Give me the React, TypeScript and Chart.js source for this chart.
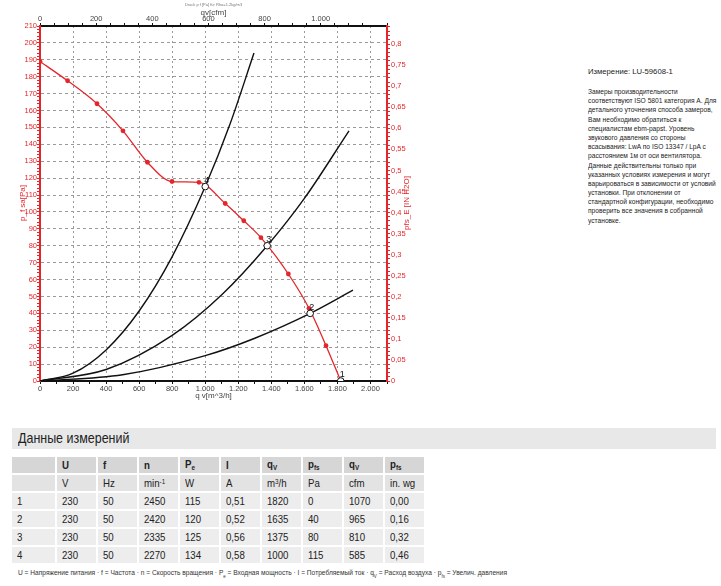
import React, { useEffect, useRef } from 'react';
import { Chart, registerables } from 'chart.js';

Chart.register(...registerables);

// Fan curve: static pressure [Pa] over volume flow [m³/h]
const fanFlow = [0, 167, 345, 502, 650, 799, 962, 1121, 1233, 1337, 1503, 1628, 1731, 1820];
const fanPressure = [189, 177.6, 164, 148, 129.4, 118, 117.5, 105, 94.8, 84.8, 63.3, 43, 20.9, 0];

// System resistance curves through the operating points 4, 3 and 2
const sysFlowA = [0, 200, 400, 600, 800, 1000, 1150, 1295];
const sysPressA = [0, 4.6, 18.4, 41.4, 73.6, 115, 152, 194];
const sysFlowB = [0, 400, 800, 1100, 1375, 1600, 1870];
const sysPressB = [0, 6.8, 27, 51, 80, 108, 148];
const sysFlowC = [0, 500, 1000, 1300, 1635, 1894];
const sysPressC = [0, 3.7, 15, 25.3, 40, 53.7];

// Measurement table
const rowIds = ['1', '2', '3', '4'];
const voltage = [230, 230, 230, 230];
const frequency = [50, 50, 50, 50];
const speed = [2450, 2420, 2335, 2270];
const inputPower = [115, 120, 125, 134];
const current = ['0,51', '0,52', '0,56', '0,58'];
const flowM3h = [1820, 1635, 1375, 1000];
const pressurePa = [0, 40, 80, 115];
const flowCfm = [1070, 965, 810, 585];
const pressureInWg = ['0,00', '0,16', '0,32', '0,46'];

// Axis ranges
const flowMax = 2100; // m³/h
const pressureMax = 210; // Pa
const M3H_PER_CFM = 1.699011;
const PA_PER_INH2O = 249.089;

const RED = '#e3262b';
const GRID = '#9a9a9a';
const AXIS_TEXT = '#444';
const FONT = '"Liberation Sans", Arial, sans-serif';

const CANVAS_W = 430;
const CANVAS_H = 405;

const thousands = (v: number) => {
  const r = Math.round(v);
  if (r >= 1000) return `${Math.floor(r / 1000)}.${String(r % 1000).padStart(3, '0')}`;
  return String(r);
};

const pts = (xs: number[], ys: number[]) => xs.map((x, i) => ({ x, y: ys[i] }));

const chartText = {
  id: 'chartText',
  afterDatasetsDraw(chart: any) {
    const { ctx } = chart;
    const xs = chart.scales.x;
    const ys = chart.scales.y;
    ctx.save();
    // operating point numbers
    ctx.font = `9px ${FONT}`;
    ctx.fillStyle = '#111';
    ctx.textAlign = 'left';
    ctx.textBaseline = 'middle';
    flowM3h.forEach((q, i) => {
      const px = xs.getPixelForValue(q);
      const py = ys.getPixelForValue(pressurePa[i]);
      ctx.fillText(rowIds[i], px - 1, py - 6);
    });
    ctx.restore();
  },
  afterDraw(chart: any) {
    const { ctx, chartArea } = chart;
    const cx = (chartArea.left + chartArea.right) / 2;
    ctx.save();
    ctx.textAlign = 'center';
    ctx.textBaseline = 'middle';
    ctx.fillStyle = '#777';
    ctx.font = `4px ${FONT}`;
    ctx.fillText('Druck p f [Pa] für Rho=1.2kg/m3', cx, 5);
    ctx.fillStyle = AXIS_TEXT;
    ctx.font = `8px ${FONT}`;
    ctx.fillText('qv[cfm]', cx, 13);
    ctx.fillText('q v[m^3/h]', cx, chartArea.bottom + 15);
    ctx.fillStyle = RED;
    ctx.translate(chartArea.left - 17, 203);
    ctx.rotate(-Math.PI / 2);
    ctx.fillText('p_f sa[Pa]', 0, 0);
    ctx.restore();
    ctx.save();
    ctx.textAlign = 'center';
    ctx.textBaseline = 'middle';
    ctx.fillStyle = RED;
    ctx.font = `8px ${FONT}`;
    ctx.translate(chartArea.right + 20, 203);
    ctx.rotate(-Math.PI / 2);
    ctx.fillText('pfs_E [IN H2O]', 0, 0);
    ctx.restore();
  },
};

function FanChart() {
  const ref = useRef<HTMLCanvasElement | null>(null);
  useEffect(() => {
    if (!ref.current) return;
    const black = { borderColor: '#111', borderWidth: 1.4, pointRadius: 0, showLine: true, cubicInterpolationMode: 'monotone' as const, fill: false };
    const chart = new Chart(ref.current, {
      type: 'scatter',
      data: {
        datasets: [
          { ...black, data: pts(sysFlowA, sysPressA), order: 3 },
          { ...black, data: pts(sysFlowB, sysPressB), order: 3 },
          { ...black, data: pts(sysFlowC, sysPressC), order: 3 },
          {
            data: pts(fanFlow, fanPressure),
            showLine: true,
            borderColor: RED,
            borderWidth: 1.3,
            cubicInterpolationMode: 'monotone',
            pointRadius: 2.4,
            pointBackgroundColor: RED,
            pointBorderWidth: 0,
            order: 2,
          },
          {
            data: pts(flowM3h, pressurePa),
            showLine: false,
            pointRadius: 3.3,
            pointBackgroundColor: '#fff',
            pointBorderColor: '#111',
            pointBorderWidth: 1,
            order: 1,
          },
        ],
      },
      options: {
        responsive: false,
        animation: false,
        devicePixelRatio: 1,
        layout: { padding: 0 },
        plugins: { legend: { display: false }, tooltip: { enabled: false } },
        scales: {
          x: {
            type: 'linear',
            position: 'bottom',
            min: 0,
            max: flowMax,
            afterFit: (s: any) => { s.height = CANVAS_H - 381; },
            ticks: {
              stepSize: 100,
              autoSkip: false,
              maxRotation: 0,
              padding: 0,
              color: AXIS_TEXT,
              font: { size: 7.5, family: FONT },
              callback: (v: any) => (v % 200 === 0 ? thousands(v) : ''),
            },
            grid: {
              color: (c: any) => (c.tick && c.tick.value % 200 === 0 && c.tick.value > 0 && c.tick.value < flowMax ? GRID : 'rgba(0,0,0,0)'),
              tickColor: '#111',
              tickLength: 3,
              tickBorderDash: [],
              lineWidth: 1,
            },
            border: { color: '#111', width: 2, dash: [2, 3] },
          },
          x2: {
            type: 'linear',
            position: 'top',
            min: 0,
            max: flowMax / M3H_PER_CFM,
            afterFit: (s: any) => { s.height = 26; },
            ticks: {
              stepSize: 50,
              autoSkip: false,
              maxRotation: 0,
              padding: 0,
              color: AXIS_TEXT,
              font: { size: 7.5, family: FONT },
              callback: (v: any) => (Math.abs(v % 200) < 1e-6 ? thousands(v) : ''),
            },
            grid: { drawOnChartArea: false, tickColor: '#111', tickLength: 3, color: '#111' },
            border: { color: '#111', width: 2 },
          },
          y: {
            type: 'linear',
            position: 'left',
            min: 0,
            max: pressureMax,
            afterFit: (s: any) => { s.width = 40; },
            ticks: {
              stepSize: 2,
              autoSkip: false,
              padding: 0,
              color: RED,
              font: { size: 7.5, family: FONT },
              callback: (v: any) => (v % 10 === 0 ? String(v) : ''),
            },
            grid: {
              color: (c: any) => (c.tick && c.tick.value % 10 === 0 && c.tick.value > 0 && c.tick.value < pressureMax ? GRID : 'rgba(0,0,0,0)'),
              tickColor: RED,
              tickLength: 3,
              tickBorderDash: [],
              lineWidth: 1,
            },
            border: { color: RED, width: 2, dash: [3, 3] },
          },
          y2: {
            type: 'linear',
            position: 'right',
            min: 0,
            max: pressureMax / PA_PER_INH2O,
            afterFit: (s: any) => { s.width = CANVAS_W - 387; },
            ticks: {
              stepSize: 0.01,
              autoSkip: false,
              padding: 1,
              color: RED,
              font: { size: 7.5, family: FONT },
              callback: (v: any) => {
                const k = v * 20;
                return Math.abs(k - Math.round(k)) < 1e-6 ? String(+v.toFixed(2)).replace('.', ',') : '';
              },
            },
            grid: { drawOnChartArea: false, tickColor: RED, tickLength: 3, color: RED },
            border: { color: RED, width: 2 },
          },
        },
      },
      plugins: [chartText],
    } as any);
    return () => chart.destroy();
  }, []);
  return (
    <canvas
      ref={ref}
      width={CANVAS_W}
      height={CANVAS_H}
      style={{ position: 'absolute', left: 0, top: 0, width: CANVAS_W, height: CANVAS_H }}
    />
  );
}

const noteLines = [
  'Замеры производительности',
  'соответствуют ISO 5801 категория A. Для',
  'детального уточнения способа замеров,',
  'Вам необходимо обратиться к',
  'специалистам ebm-papst. Уровень',
  'звукового давления со стороны',
  'всасывания: LwA по ISO 13347 / LpA с',
  'расстоянием 1м от оси вентилятора.',
  'Данные действительны только при',
  'указанных условиях измерения и могут',
  'варьироваться в зависимости от условий',
  'установки. При отклонении от',
  'стандартной конфигурации, необходимо',
  'проверить все значения в собранной',
  'установке.',
];

// condensed look for the table and notes
const squeeze = (k: number): React.CSSProperties => ({
  display: 'inline-block',
  transform: `scaleX(${k})`,
  transformOrigin: 'left center',
  whiteSpace: 'nowrap',
});

const cellBase: React.CSSProperties = {
  height: 16,
  padding: '0 0 0 5px',
  boxSizing: 'border-box',
  textAlign: 'left',
  verticalAlign: 'middle',
  whiteSpace: 'nowrap',
  overflow: 'hidden',
};

const sub = (t: string) => <sub style={{ fontSize: 7.5, verticalAlign: -2 }}>{t}</sub>;
const sup = (t: string) => <sup style={{ fontSize: 7.5, verticalAlign: 3 }}>{t}</sup>;

function DataTable() {
  const headBg = '#d6d6d6';
  const unitBg = '#e3e3e3';
  const rowBg = '#ededed';
  const head: React.ReactNode[] = [
    '', 'U', 'f', 'n', <>P{sub('e')}</>, 'I', <>q{sub('V')}</>, <>p{sub('fs')}</>, <>q{sub('V')}</>, <>p{sub('fs')}</>,
  ];
  const units: React.ReactNode[] = [
    '', 'V', 'Hz', <>min{sup('-1')}</>, 'W', 'A', <>m{sup('3')}/h</>, 'Pa', 'cfm', 'in. wg',
  ];
  const rows = rowIds.map((id, i) => [
    id, voltage[i], frequency[i], speed[i], inputPower[i], current[i], flowM3h[i], pressurePa[i], flowCfm[i], pressureInWg[i],
  ]);
  const widths = [43, 39, 39, 39, 39, 39, 39, 39, 39, 39];
  const colGroup = (
    <colgroup>
      {widths.map((w, j) => <col key={j} style={{ width: w }} />)}
    </colgroup>
  );
  const K = 0.84;
  return (
    <table
      style={{
        position: 'absolute',
        left: 10,
        top: 455,
        width: 416,
        borderCollapse: 'separate',
        borderSpacing: 2,
        fontFamily: FONT,
        fontSize: 11.5,
        color: '#222',
        tableLayout: 'fixed',
      }}
    >
      {colGroup}
      <tbody>
        <tr>
          {head.map((h, j) => (
            <td key={j} style={{ ...cellBase, background: headBg, fontWeight: 'bold' }}><span style={squeeze(K)}>{h}</span></td>
          ))}
        </tr>
        <tr>
          {units.map((u, j) => (
            <td key={j} style={{ ...cellBase, background: unitBg }}><span style={squeeze(K)}>{u}</span></td>
          ))}
        </tr>
        {rows.map((r, i) => (
          <tr key={i}>
            {r.map((v, j) => (
              <td key={j} style={{ ...cellBase, background: rowBg }}><span style={squeeze(K)}>{v}</span></td>
            ))}
          </tr>
        ))}
      </tbody>
    </table>
  );
}

export default function App() {
  return (
    <div style={{ position: 'absolute', left: 0, top: 0, width: 721, height: 586, background: '#fff', overflow: 'hidden' }}>
      <FanChart />
      <div style={{ position: 'absolute', left: 588, top: 67, fontFamily: FONT, fontSize: 8, color: '#222', lineHeight: '9.2px' }}>
        <span style={squeeze(0.96)}>Измерение: LU-59608-1</span>
      </div>
      <div style={{ position: 'absolute', left: 588, top: 87, fontFamily: FONT, fontSize: 8, color: '#222', lineHeight: '9.2px' }}>
        {noteLines.map((l, i) => (
          <div key={i} style={{ height: 9.2 }}><span style={squeeze(0.83)}>{l}</span></div>
        ))}
      </div>
      <div
        style={{
          position: 'absolute',
          left: 12,
          top: 428,
          width: 704,
          height: 21,
          background: '#e8e8e8',
          fontFamily: FONT,
          fontSize: 14.5,
          lineHeight: '21px',
          color: '#222',
          paddingLeft: 6,
          boxSizing: 'border-box',
        }}
      >
        <span style={squeeze(0.86)}>Данные измерений</span>
      </div>
      <DataTable />
      <div style={{ position: 'absolute', left: 18, top: 568, fontFamily: FONT, fontSize: 7.5, color: '#333' }}>
        <span style={squeeze(0.88)}>
          U = Напряжение питания · f = Частота · n = Скорость вращения · P<sub style={{ fontSize: 5 }}>e</sub> = Входная мощность · I = Потребляемый ток · q<sub style={{ fontSize: 5 }}>V</sub> = Расход воздуха · p<sub style={{ fontSize: 5 }}>fs</sub> = Увелич. давления
        </span>
      </div>
    </div>
  );
}
